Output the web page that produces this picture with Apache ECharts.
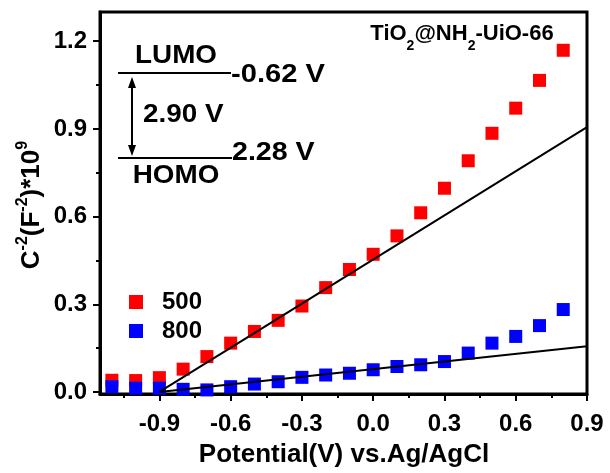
<!DOCTYPE html>
<html>
<head>
<meta charset="utf-8">
<script src="https://cdn.jsdelivr.net/npm/echarts@6/dist/echarts.min.js"></script>
<style>
html,body{margin:0;padding:0;background:#fff;}
#chart{width:610px;height:473px;}
</style>
</head>
<body>
<div id="chart"></div>
<script>
// ---- data ----
const potentials = [-1.1,-1.0,-0.9,-0.8,-0.7,-0.6,-0.5,-0.4,-0.3,-0.2,-0.1,0.0,0.1,0.2,0.3,0.4,0.5,0.6,0.7,0.8];
const series500 = [0.040,0.039,0.049,0.078,0.121,0.167,0.207,0.245,0.294,0.357,0.419,0.471,0.534,0.613,0.697,0.791,0.885,0.971,1.066,1.169];
const series800 = [0.018,0.013,0.013,0.009,0.007,0.018,0.027,0.035,0.050,0.058,0.064,0.076,0.087,0.093,0.104,0.133,0.167,0.190,0.227,0.282];
const fit500 = [[-0.9,0.0],[0.9,0.906]];
const fit800 = [[-0.9,0.0],[0.9,0.156]];
const xMajorTicks = [-0.9,-0.6,-0.3,0.0,0.3,0.6,0.9];
const xMinorTicks = [-1.05,-0.75,-0.45,-0.15,0.15,0.45,0.75];
const yMajorTicks = [0.0,0.3,0.6,0.9,1.2];
const yMinorTicks = [0.15,0.45,0.75,1.05];
const legendNames = ['500','800'];

const FONT = '"Liberation Sans", Arial, sans-serif';
const chart = echarts.init(document.getElementById('chart'), null, {renderer:'canvas'});

const xMin = -1.15, xMax = 0.9, yMin = -0.007, yMax = 1.3;
const axisLabelStyle = {fontFamily: FONT, fontWeight:'bold', fontSize:24, color:'#000'};

function xAxisDef(major) {
  return {
    type:'value', min:xMin, max:xMax, position:'bottom',
    axisLine:{show: major, onZero:false, lineStyle:{color:'#000', width:3}},
    axisTick:{show:true, inside:false, length: major?7:4, lineStyle:{color:'#000', width:2},
      customValues: major ? xMajorTicks : xMinorTicks},
    axisLabel:{show: major, margin:18, ...axisLabelStyle, customValues: xMajorTicks,
      formatter: v => v.toFixed(1)},
    splitLine:{show:false}
  };
}
function yAxisDef(major) {
  return {
    type:'value', min:yMin, max:yMax, position:'left',
    axisLine:{show: major, onZero:false, lineStyle:{color:'#000', width:3}},
    axisTick:{show:true, inside:false, length: major?7:4, lineStyle:{color:'#000', width:2},
      customValues: major ? yMajorTicks : yMinorTicks},
    axisLabel:{show: major, margin:13, ...axisLabelStyle, customValues: yMajorTicks,
      formatter: v => v.toFixed(1)},
    splitLine:{show:false}
  };
}

const bandText = {fontFamily:FONT, fontWeight:'bold', fontSize:26, fill:'#000', verticalAlign:'middle'};

const option = {
  backgroundColor:'#fff',
  animation:false,
  grid:{left:100, right:23, top:12, bottom:79, show:true, borderColor:'#000', borderWidth:3, backgroundColor:'transparent'},
  xAxis:[xAxisDef(true), xAxisDef(false)],
  yAxis:[yAxisDef(true), yAxisDef(false)],
  legend:{
    data: legendNames, orient:'vertical', left:129, top:290, padding:0, itemWidth:14, itemHeight:14, itemGap:5,
    icon:'rect',
    textStyle:{fontFamily:FONT, fontWeight:'bold', fontSize:24, color:'#000', lineHeight:24, padding:[0,0,0,14]}
  },
  series:[
    {name:'500', type:'scatter', symbol:'rect', symbolSize:13, itemStyle:{color:'#ff0000', opacity:1},
     data: potentials.map((x,i)=>[x, series500[i]]), z:2},
    {name:'800', type:'scatter', symbol:'rect', symbolSize:13, itemStyle:{color:'#0000ff', opacity:1},
     data: potentials.map((x,i)=>[x, series800[i]]), z:3},
    {name:'fit500', type:'line', data:fit500, showSymbol:false, lineStyle:{color:'#000', width:2}, z:4},
    {name:'fit800', type:'line', data:fit800, showSymbol:false, lineStyle:{color:'#000', width:2}, z:4}
  ],
  graphic:[
    // y axis title
    {type:'text', x:30, y:205, rotation:Math.PI/2,
     style:{
       text:'{m|C}{s|-2}{m|(F}{s|-2}{m|)*10}{s|9}',
       align:'center', verticalAlign:'middle',
       rich:{
         m:{fontFamily:FONT, fontWeight:'bold', fontSize:26, lineHeight:30, fill:'#000', verticalAlign:'bottom'},
         s:{fontFamily:FONT, fontWeight:'bold', fontSize:16, lineHeight:16, fill:'#000', verticalAlign:'top'}
       }
     }},
    // x axis title
    {type:'text', x:344, y:455,
     style:{text:'Potential(V) vs.Ag/AgCl', fontFamily:FONT, fontWeight:'bold', fontSize:26, fill:'#000', align:'center', verticalAlign:'middle'}},
    // top-right label
    {type:'text', x:462, y:38,
     style:{
       text:'{m|TiO}{s|2}{m|@NH}{s|2}{m|-UiO-66}',
       align:'center', verticalAlign:'middle',
       rich:{
         m:{fontFamily:FONT, fontWeight:'bold', fontSize:22, lineHeight:30, fill:'#000', verticalAlign:'top'},
         s:{fontFamily:FONT, fontWeight:'bold', fontSize:14, lineHeight:14, fill:'#000', verticalAlign:'bottom'}
       }
     }},
    // band diagram
    {type:'text', x:176, y:56, scaleX:1.07, style:{...bandText, text:'LUMO', align:'center'}},
    {type:'line', shape:{x1:118, y1:73, x2:231, y2:73}, style:{stroke:'#000', lineWidth:2}},
    {type:'text', x:231, y:75, scaleX:1.12, style:{...bandText, text:'-0.62 V', align:'left'}},
    {type:'line', shape:{x1:132, y1:82, x2:132, y2:151}, style:{stroke:'#000', lineWidth:2}},
    {type:'polygon', shape:{points:[[132,77],[128,88],[136,88]]}, style:{fill:'#000'}},
    {type:'polygon', shape:{points:[[132,156],[128,145],[136,145]]}, style:{fill:'#000'}},
    {type:'text', x:143, y:115, scaleX:1.07, style:{...bandText, text:'2.90 V', align:'left'}},
    {type:'line', shape:{x1:118, y1:158, x2:232, y2:158}, style:{stroke:'#000', lineWidth:2}},
    {type:'text', x:232, y:153, scaleX:1.1, style:{...bandText, text:'2.28 V', align:'left'}},
    {type:'text', x:176, y:176, scaleX:1.07, style:{...bandText, text:'HOMO', align:'center'}}
  ]
};
chart.setOption(option);
</script>
</body>
</html>
